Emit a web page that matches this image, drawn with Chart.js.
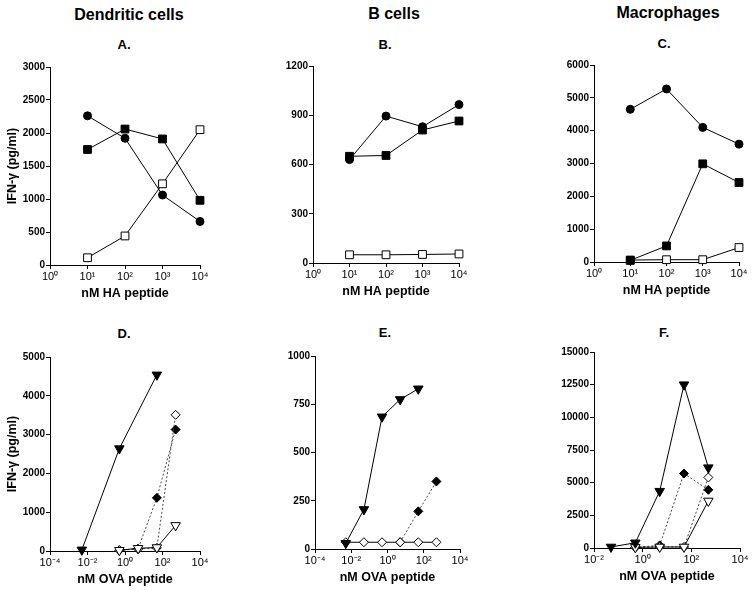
<!DOCTYPE html>
<html>
<head>
<meta charset="utf-8">
<script src="https://cdn.jsdelivr.net/npm/chart.js@4/dist/chart.umd.min.js"></script>
<style>
  body { margin: 0; background: #fff; width: 755px; height: 591px; position: relative; overflow: hidden;
         font-family: "Liberation Sans", Arial, sans-serif; }
  .lbl { position: absolute; transform: translate(-50%, -50%); font-weight: bold; color: #000; white-space: nowrap; }
  .col { font-size: 16px; }
  .pan { font-size: 13px; }
  canvas { position: absolute; }
</style>
</head>
<body>
<div class="lbl col" style="left:129px;top:15px">Dendritic cells</div>
<div class="lbl col" style="left:394px;top:14px">B cells</div>
<div class="lbl col" style="left:668px;top:13px">Macrophages</div>
<div class="lbl pan" style="left:124px;top:44px">A.</div>
<div class="lbl pan" style="left:385px;top:44px">B.</div>
<div class="lbl pan" style="left:664px;top:43px">C.</div>
<div class="lbl pan" style="left:124px;top:333px">D.</div>
<div class="lbl pan" style="left:385px;top:332px">E.</div>
<div class="lbl pan" style="left:664px;top:332px">F.</div>

<canvas id="chartA"></canvas>
<canvas id="chartB"></canvas>
<canvas id="chartC"></canvas>
<canvas id="chartD"></canvas>
<canvas id="chartE"></canvas>
<canvas id="chartF"></canvas>

<script>
// HA peptide doses (nM)
const haDoses = [10, 100, 1000, 10000];
const haTicks = [1, 10, 100, 1000, 10000];

// A. Dendritic cells, HA
const aCircle = [2260, 1920, 1060, 660];
const aSquare = [1750, 2060, 1910, 980];
const aOpenSquare = [110, 440, 1230, 2050];

// B. B cells, HA
const bCircle = [630, 895, 830, 965];
const bSquare = [650, 655, 810, 865];
const bOpenSquare = [50, 50, 52, 55];

// C. Macrophages, HA
const cCircle = [4650, 5270, 4100, 3590];
const cSquare = [50, 490, 2990, 2420];
const cOpenSquare = [60, 70, 70, 440];

// D. Dendritic cells, OVA
const ovaTicks = [1e-4, 1e-2, 1, 100, 1e4];
const dTriDoses = [0.005, 0.5, 50];
const dTri = [30, 2640, 4540];
const dDoses = [0.5, 5, 50, 500];
const dDiamond = [20, 60, 1370, 3130];
const dOpenDiamond = [20, 50, 80, 3510];
const dOpenTri = [20, 70, 90, 660];

// E. B cells, OVA
const eTriDoses = [0.005, 0.05, 0.5, 5, 50];
const eTri = [30, 205, 685, 775, 830];
const eDiamondDoses = [5, 50, 500];
const eDiamond = [35, 195, 350];
const eOpenDiamondDoses = [0.005, 0.05, 0.5, 5, 50, 500];
const eOpenDiamond = [35, 35, 35, 35, 35, 35];

// F. Macrophages, OVA
const fTicks = [1e-2, 1, 100, 1e4];
const fTriDoses = [0.05, 0.5, 5, 50, 500];
const fTri = [80, 400, 4350, 12500, 6150];
const fDoses = [0.5, 5, 50, 500];
const fDiamond = [50, 200, 5700, 4450];
const fOpenDiamond = [50, 80, 80, 5400];
const fOpenTri = [50, 80, 80, 3600];

const sup = { '-': '⁻', '0': '⁰', '1': '¹', '2': '²', '3': '³', '4': '⁴' };
function powLabel(v) {
  const e = String(Math.round(Math.log10(v)));
  return '10' + e.split('').map(c => sup[c]).join('');
}

function pts(xs, ys) { return xs.map((x, i) => ({ x: x, y: ys[i] })); }

const marker = {
  circle:      { pointStyle: 'circle',  pointRadius: 4,   pointRotation: 0,   pointBackgroundColor: '#000' },
  square:      { pointStyle: 'rect',    pointRadius: 5.5, pointRotation: 0,   pointBackgroundColor: '#000' },
  openSquare:  { pointStyle: 'rect',    pointRadius: 5.5, pointRotation: 0,   pointBackgroundColor: '#fff' },
  tri:         { pointStyle: 'triangle', pointRadius: 5.5, pointRotation: 180, pointBackgroundColor: '#000' },
  openTri:     { pointStyle: 'triangle', pointRadius: 5.5, pointRotation: 180, pointBackgroundColor: '#fff' },
  diamond:     { pointStyle: 'rectRot', pointRadius: 4.5, pointRotation: 0,   pointBackgroundColor: '#000' },
  openDiamond: { pointStyle: 'rectRot', pointRadius: 4.5, pointRotation: 0,   pointBackgroundColor: '#fff' }
};

function series(xs, ys, kind, dotted) {
  return Object.assign({
    data: pts(xs, ys),
    borderColor: dotted ? '#444' : '#000',
    borderWidth: 1,
    borderDash: dotted ? [2, 2] : [],
    pointBorderColor: '#000',
    pointBorderWidth: 1,
    tension: 0,
    clip: false
  }, marker[kind]);
}

function makePanel(id, box, xMin, xMax, xTicks, xTitle, yMax, yStep, datasets, yTitle) {
  const padL = 2, yW = 48, padT = 12, padR = 16, xH = 36, padB = 4;
  const cv = document.getElementById(id);
  const w = (box.r - box.l) + yW + padL + padR;
  const h = (box.b - box.t) + padT + xH + padB;
  cv.style.left = (box.l - yW - padL) + 'px';
  cv.style.top = (box.t - padT) + 'px';
  cv.style.width = w + 'px';
  cv.style.height = h + 'px';
  cv.width = w; cv.height = h;

  new Chart(cv.getContext('2d'), {
    type: 'line',
    data: { datasets: datasets },
    options: {
      responsive: false,
      animation: false,
      layout: { padding: { left: padL, top: padT, right: padR, bottom: padB } },
      plugins: { legend: { display: false }, tooltip: { enabled: false } },
      scales: {
        x: {
          type: 'logarithmic',
          min: xMin, max: xMax,
          afterBuildTicks: s => { s.ticks = xTicks.map(v => ({ value: v })); },
          afterFit: s => { s.height = xH; },
          border: { display: true, color: '#000', width: 1 },
          grid: { drawOnChartArea: false, color: '#000', tickLength: 4 },
          ticks: {
            color: '#000', padding: 1, maxRotation: 0, autoSkip: false,
            font: { family: 'Liberation Sans', size: 11 },
            callback: v => powLabel(v)
          },
          title: {
            display: true, text: xTitle,
            color: '#000', padding: { top: 0, bottom: 0 },
            font: { family: 'Liberation Sans', size: 12.5, weight: 'bold' }
          }
        },
        y: {
          type: 'linear',
          min: 0, max: yMax,
          afterFit: s => { s.width = yW; },
          border: { display: true, color: '#000', width: 1 },
          grid: { drawOnChartArea: false, color: '#000', tickLength: 4 },
          ticks: {
            stepSize: yStep, color: '#000', padding: 1,
            font: { family: 'Liberation Sans', size: 10, weight: 'bold' },
            callback: v => String(v)
          },
          title: {
            display: !!yTitle, text: yTitle || '', color: '#000',
            padding: { top: 3, bottom: 0 },
            font: { family: 'Liberation Sans', size: 12.5, weight: 'bold' }
          }
        }
      }
    }
  });
}

const yLabel = 'IFN-γ (pg/ml)';
const haTitle = 'nM HA peptide';
const ovaTitle = 'nM OVA peptide';

makePanel('chartA', { l: 50, r: 200, t: 67, b: 265 }, 1, 1e4, haTicks, haTitle, 3000, 500, [
  series(haDoses, aCircle, 'circle'),
  series(haDoses, aSquare, 'square'),
  series(haDoses, aOpenSquare, 'openSquare')
], yLabel);

makePanel('chartB', { l: 313, r: 459, t: 66, b: 263 }, 1, 1e4, haTicks, haTitle, 1200, 300, [
  series(haDoses, bCircle, 'circle'),
  series(haDoses, bSquare, 'square'),
  series(haDoses, bOpenSquare, 'openSquare')
]);

makePanel('chartC', { l: 594, r: 739, t: 65, b: 262 }, 1, 1e4, haTicks, haTitle, 6000, 1000, [
  series(haDoses, cCircle, 'circle'),
  series(haDoses, cSquare, 'square'),
  series(haDoses, cOpenSquare, 'openSquare')
]);

makePanel('chartD', { l: 50, r: 200, t: 357, b: 551 }, 1e-4, 1e4, ovaTicks, ovaTitle, 5000, 1000, [
  series(dTriDoses, dTri, 'tri'),
  series(dDoses, dOpenTri, 'openTri'),
  series(dDoses, dOpenDiamond, 'openDiamond', true),
  series(dDoses, dDiamond, 'diamond', true)
], yLabel);

makePanel('chartE', { l: 315, r: 460, t: 356, b: 549 }, 1e-4, 1e4, ovaTicks, ovaTitle, 1000, 250, [
  series(eTriDoses, eTri, 'tri'),
  series(eOpenDiamondDoses, eOpenDiamond, 'openDiamond'),
  series(eDiamondDoses, eDiamond, 'diamond', true)
]);

makePanel('chartF', { l: 594, r: 740, t: 352, b: 548 }, 1e-2, 1e4, fTicks, ovaTitle, 15000, 2500, [
  series(fTriDoses, fTri, 'tri'),
  series(fDoses, fOpenTri, 'openTri'),
  series(fDoses, fOpenDiamond, 'openDiamond', true),
  series(fDoses, fDiamond, 'diamond', true)
]);
</script>
</body>
</html>
